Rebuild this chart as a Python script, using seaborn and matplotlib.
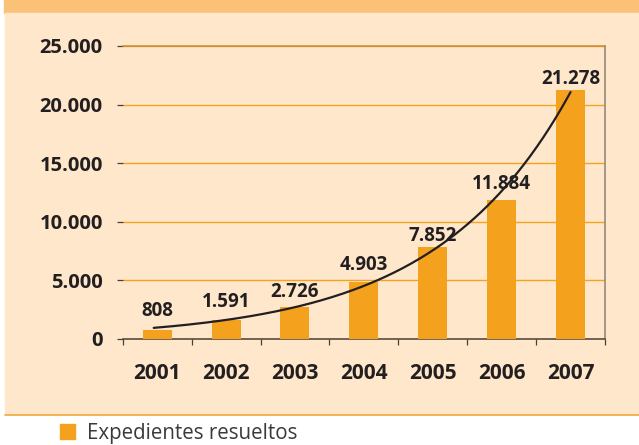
import matplotlib
matplotlib.use('Agg')
import matplotlib.pyplot as plt
from matplotlib.patches import Rectangle, Patch
from matplotlib.lines import Line2D
import numpy as np
import pandas as pd
import seaborn as sns

# data
years = ['2001', '2002', '2003', '2004', '2005', '2006', '2007']
expedientes = [808, 1591, 2726, 4903, 7852, 11884, 21278]
value_labels = ['808', '1.591', '2.726', '4.903', '7.852', '11.884', '21.278']
yticks = [0, 5000, 10000, 15000, 20000, 25000]
ytick_labels = ['0', '5.000', '10.000', '15.000', '20.000', '25.000']
legend_label = 'Expedientes resueltos'

# styling
bar_color = '#F4A11D'
text_color = '#231F20'
peach = '#FEE7CB'
band = '#FBC277'
label_gaps = [14, 13, 10, 12, 6, 11, 6]  # pixels above each bar

sns.set_style('white')
plt.rcParams['font.family'] = ['Open Sans', 'DejaVu Sans']

fig = plt.figure(figsize=(6.39, 4.45), dpi=100)
fig.patch.set_facecolor('white')

# framed background box (drawn behind the axes)
fig.patches.append(Rectangle((4 / 639, 1 - 12.7 / 445), 1, 12.7 / 445,
                             transform=fig.transFigure, color=band,
                             zorder=-5))
fig.patches.append(Rectangle((5 / 639, 1 - 414 / 445), 1, (414 - 12.7) / 445,
                             transform=fig.transFigure, color=peach,
                             zorder=-5))
fig.lines.append(Line2D([5 / 639, 1], [1 - 414.5 / 445] * 2,
                        transform=fig.transFigure, color='#F6AE4A', lw=1.3,
                        zorder=-4))

ax = fig.add_axes([122.7 / 639, 1 - 339 / 445, (605 - 122.7) / 639,
                   (339 - 46) / 445])
ax.patch.set_alpha(0)

df = pd.DataFrame({'year': years, 'value': expedientes})
sns.barplot(data=df, x='year', y='value', color=bar_color, width=0.42,
            saturation=1, linewidth=0, ax=ax, zorder=3)

# exponential trend line (log fit weighted towards the large values)
idx = np.arange(len(years))
vals = np.array(expedientes, dtype=float)
b, a = np.polyfit(idx, np.log(vals), 1, w=np.sqrt(vals))
xs = np.linspace(-0.05, 6.0, 200)
ax.plot(xs, np.exp(a + b * xs), color=text_color, lw=1.6, zorder=4)

# value labels
for i, (v, lab) in enumerate(zip(expedientes, value_labels)):
    ax.annotate(lab, (i, v), xytext=(0, label_gaps[i]),
                textcoords='offset pixels', ha='center', va='baseline',
                fontsize=13.5, fontweight='bold', color=text_color)

ax.set_xlim(-0.5, 6.5)
ax.set_ylim(0, 25000)
ax.set_yticks(yticks)
ax.set_yticklabels(ytick_labels, fontsize=14.5, fontweight='bold',
                   color=text_color)
ax.tick_params(axis='y', length=4.3, width=0.9, color='#4A4038', pad=10,
               left=True)

ax.set_xticks(np.arange(-0.5, 7, 1))
ax.set_xticklabels([])
ax.set_xticks(idx, minor=True)
ax.set_xticklabels(years, minor=True, fontsize=15, fontweight='bold',
                   color=text_color)
ax.tick_params(axis='x', which='major', length=4.3, width=0.9,
               color='#4A4038', direction='out', bottom=True)
ax.tick_params(axis='x', which='minor', length=0, pad=17.5)
ax.set_xlabel('')
ax.set_ylabel('')

ax.yaxis.grid(True, color='#F5A21F', lw=1)
ax.set_axisbelow(True)
ax.spines['left'].set_visible(False)
ax.spines['top'].set_color('#C68A3E')
ax.spines['top'].set_linewidth(1.1)
ax.spines['right'].set_color('#8E8070')
ax.spines['right'].set_linewidth(1.1)
ax.spines['bottom'].set_color('#4A4038')
ax.spines['bottom'].set_linewidth(1.1)

fig.legend(handles=[Patch(color=bar_color, label=legend_label)],
           loc='center left', bbox_to_anchor=(60 / 639, 1 - 433 / 445),
           frameon=False, fontsize=14.8, handlelength=0.72, handleheight=0.72,
           handletextpad=0.6, borderpad=0, borderaxespad=0,
           labelcolor='#3A3A3A')

fig.savefig('out.png', dpi=100, facecolor='white')
